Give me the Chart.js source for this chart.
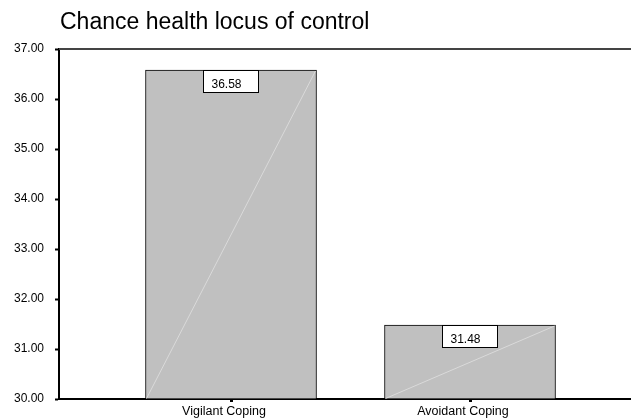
<!DOCTYPE html>
<html>
<head>
<meta charset="utf-8">
<script src="https://cdn.jsdelivr.net/npm/chart.js@4.4.1/dist/chart.umd.min.js"></script>
<style>
  html, body { margin: 0; padding: 0; background: #fff; }
  #wrap { width: 631px; height: 419px; position: relative; }
</style>
</head>
<body>
<div id="wrap"><canvas id="meansChart"></canvas></div>
<script>
// chart data
const chartTitle = 'Chance health locus of control';
const categories = ['Vigilant Coping', 'Avoidant Coping'];
const meanValues = [36.58, 31.48];
const yTicks = [30, 31, 32, 33, 34, 35, 36, 37];

// value boxes + the faint diagonal in each bar, title, top frame line
const extrasPlugin = {
    id: 'extras',
    afterDatasetsDraw(chart) {
        const c = chart.ctx;
        const area = chart.chartArea;
        const meta = chart.getDatasetMeta(0);
        c.save();
        meta.data.forEach(function(bar, i) {
            const p = bar.getProps(['x', 'y', 'base', 'width'], true);
            c.strokeStyle = '#dadada';
            c.lineWidth = 1;
            c.beginPath();
            c.moveTo(p.x - p.width / 2 + 1, p.base);
            c.lineTo(p.x + p.width / 2 - 1, p.y + 1);
            c.stroke();

            const bx = Math.round(p.x) - 27.5;
            const by = Math.round(p.y) + 0.5;
            c.fillStyle = '#fff';
            c.fillRect(bx, by, 55, 22);
            c.strokeStyle = '#000';
            c.strokeRect(bx, by, 55, 22);
            c.fillStyle = '#000';
            c.font = '12px Arial, "Liberation Sans"';
            c.textAlign = 'left';
            c.textBaseline = 'alphabetic';
            c.fillText(meanValues[i].toFixed(2), bx + 8, by + 17);
        });
        // top frame line
        c.strokeStyle = '#444';
        c.lineWidth = 2;
        c.beginPath();
        c.moveTo(area.left, area.top);
        c.lineTo(chart.width, area.top);
        c.stroke();
        // title
        c.fillStyle = '#000';
        c.font = '23px Arial, "Liberation Sans"';
        c.textAlign = 'left';
        c.fillText(chartTitle, 60, 29);
        c.restore();
    }
};

const ctx = document.getElementById('meansChart').getContext('2d');
const meansChart = new Chart(ctx, {
    type: 'bar',
    data: {
        datasets: [{
            data: meanValues.map(function(v, i) { return { x: i + 1, y: v }; }),
            base: 30,
            backgroundColor: '#c0c0c0',
            borderColor: '#000',
            borderWidth: 1,
            borderSkipped: 'bottom',
            barThickness: 171
        }]
    },
    options: {
        responsive: true,
        maintainAspectRatio: false,
        animation: false,
        layout: { padding: { top: 49, left: 0, right: 0, bottom: 0 } },
        scales: {
            x: {
                type: 'linear',
                offset: false,
                min: 0.2803,
                max: 2.6736,
                afterBuildTicks: function(scale) {
                    scale.ticks = categories.map(function(c, i) { return { value: i + 1 }; });
                },
                afterFit: function(scale) { scale.height = 20; },
                grid: {
                    offset: false,
                    drawOnChartArea: false,
                    tickLength: 3,
                    tickWidth: 3,
                    tickColor: '#000'
                },
                border: { color: '#000', width: 2 },
                ticks: {
                    color: '#000',
                    font: { family: 'Arial, "Liberation Sans"', size: 12.5 },
                    padding: 2,
                    labelOffset: -7,
                    maxRotation: 0,
                    autoSkip: false,
                    callback: function(value) {
                        return categories[value - 1];
                    }
                }
            },
            y: {
                min: yTicks[0],
                max: yTicks[yTicks.length - 1],
                afterBuildTicks: function(scale) {
                    scale.ticks = yTicks.map(function(v) { return { value: v }; });
                },
                afterFit: function(scale) { scale.width = 59; },
                grid: {
                    drawOnChartArea: false,
                    tickLength: 4,
                    tickWidth: 2,
                    tickColor: '#000'
                },
                border: { color: '#000', width: 2 },
                ticks: {
                    color: '#000',
                    font: { family: 'Arial, "Liberation Sans"', size: 12 },
                    padding: 11,
                    callback: function(value) {
                        return value.toFixed(2);
                    }
                }
            }
        },
        plugins: {
            legend: { display: false },
            tooltip: { enabled: false },
            title: { display: false }
        }
    },
    plugins: [extrasPlugin]
});
</script>
</body>
</html>
